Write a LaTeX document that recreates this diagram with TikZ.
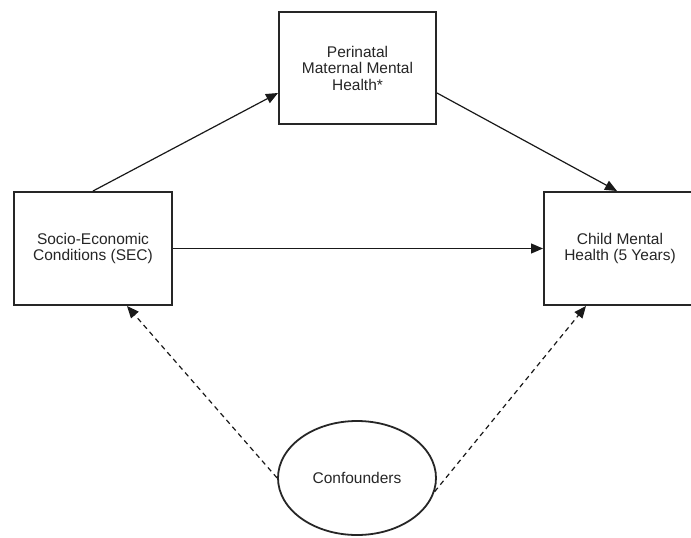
\documentclass[tikz,border=0pt]{standalone}
\usepackage{fontspec}
\setmainfont{Liberation Sans}
\usetikzlibrary{arrows.meta,shapes.geometric}

\tikzset{
  boxnode/.style={draw=black!85, line width=2pt, rectangle, align=center,
    font=\fontsize{15.5}{16.5}\selectfont, text=black!85, inner sep=0pt},
  ovalnode/.style={draw=black!85, line width=1.8pt, ellipse, align=center,
    font=\fontsize{15.5}{16.5}\selectfont, text=black!85, inner sep=0pt},
  link/.style={draw=black!90, line width=1.2pt,
    -{Triangle[length=12pt,width=10pt]}},
  dashlink/.style={link, dash pattern=on 5pt off 4pt},
}

\begin{document}
\begin{tikzpicture}[x=1pt,y=-1pt]
  \clip (0,0) rectangle (691,538);
  \fill[white] (0,0) rectangle (691,538);

  \node[boxnode, minimum width=157pt, minimum height=112pt] (peri) at (357.5,68)
    {Perinatal\\Maternal Mental\\Health*};
  \node[boxnode, minimum width=158pt, minimum height=113pt] (sec) at (93,248.5)
    {Socio-Economic\\Conditions (SEC)};
  \node[boxnode, minimum width=152pt, minimum height=113pt] (child) at (620,248.5)
    {Child Mental\\Health (5 Years)};
  \node[ovalnode, minimum width=158pt, minimum height=114pt] (conf) at (357,478)
    {Confounders};

  \draw[link] (sec.north) -- ([yshift=-25pt]peri.west);
  \draw[link] ([yshift=-25pt]peri.east) -- ([xshift=-3pt]child.north);
  \draw[link] (sec.east) -- (child.west);
  \draw[dashlink] (conf.west) -- ([xshift=34pt]sec.south);
  \draw[dashlink] (conf.-10) -- ([xshift=-34pt]child.south);
\end{tikzpicture}
\end{document}
